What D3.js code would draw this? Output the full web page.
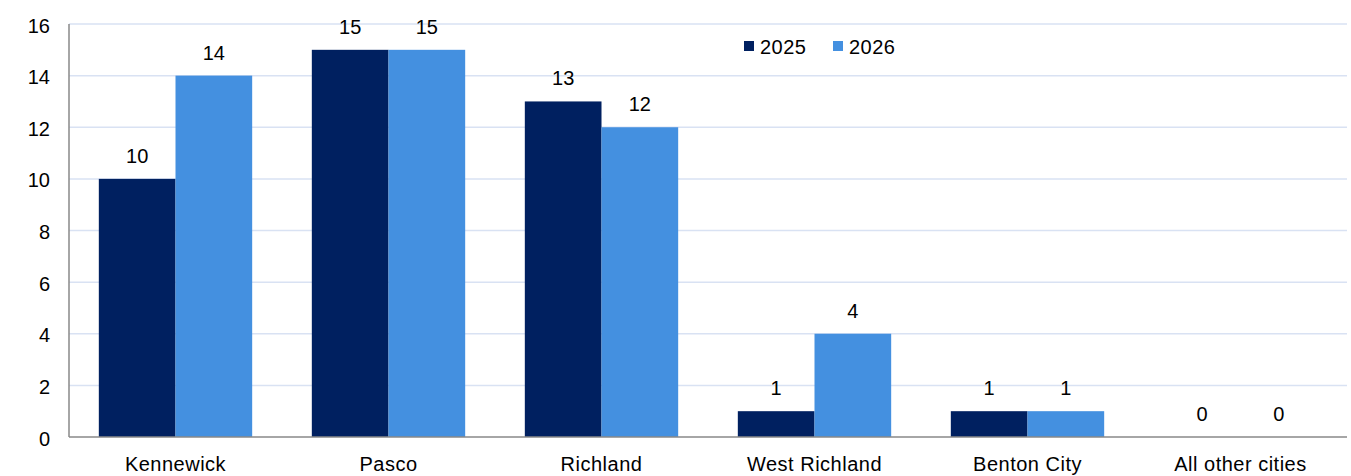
<!DOCTYPE html>
<html>
<head>
<meta charset="utf-8">
<script src="https://cdn.jsdelivr.net/npm/d3@7"></script>
<style>
  body { margin: 0; background: #fff; }
  svg { font-family: "Liberation Sans", Arial, sans-serif; }
</style>
</head>
<body>
<div id="chart"></div>
<script>
// Chart data
const cities = ["Kennewick", "Pasco", "Richland", "West Richland", "Benton City", "All other cities"];
const years = ["2025", "2026"];
const values2025 = [10, 15, 13, 1, 1, 0];
const values2026 = [14, 15, 12, 4, 1, 0];
const yTicks = [0, 2, 4, 6, 8, 10, 12, 14, 16];
const colors = ["#002060", "#4490e0"];

const width = 1351, height = 476;
const margin = { top: 24, right: 4, bottom: 39, left: 69 };
const fontSize = 20;

const svg = d3.select("#chart").append("svg")
    .attr("width", width)
    .attr("height", height);

const x = d3.scaleBand()
    .domain(cities)
    .range([margin.left, width - margin.right])
    .paddingInner(0.28)
    .paddingOuter(0.14);

const x1 = d3.scaleBand()
    .domain(years)
    .range([0, x.bandwidth()]);

const y = d3.scaleLinear()
    .domain([0, 16])
    .range([height - margin.bottom, margin.top]);

// Gridlines
svg.append("g")
    .selectAll("line")
    .data(yTicks.filter(d => d > 0))
    .enter().append("line")
    .attr("x1", margin.left)
    .attr("x2", width - margin.right)
    .attr("y1", d => y(d))
    .attr("y2", d => y(d))
    .attr("stroke", "#d9e2f3")
    .attr("stroke-width", 1.5);

// Y axis labels
svg.append("g")
    .selectAll("text")
    .data(yTicks)
    .enter().append("text")
    .attr("x", 50)
    .attr("y", d => y(d) + 8.5)
    .attr("text-anchor", "end")
    .attr("font-size", fontSize)
    .attr("fill", "#000")
    .text(d => d);

// Bars
const series = years.map((yr, i) => ({ year: yr, values: i === 0 ? values2025 : values2026 }));

const groups = svg.append("g")
    .selectAll("g")
    .data(series)
    .enter().append("g")
    .attr("fill", (d, i) => colors[i]);

groups.selectAll("rect")
    .data(d => d.values.map((v, i) => ({ city: cities[i], year: d.year, value: v })))
    .enter().append("rect")
    .attr("x", d => x(d.city) + x1(d.year))
    .attr("y", d => y(d.value))
    .attr("width", x1.bandwidth())
    .attr("height", d => y(0) - y(d.value));

// Value labels
groups.selectAll("text")
    .data(d => d.values.map((v, i) => ({ city: cities[i], year: d.year, value: v })))
    .enter().append("text")
    .attr("x", d => x(d.city) + x1(d.year) + x1.bandwidth() / 2)
    .attr("y", d => y(d.value) - 16)
    .attr("text-anchor", "middle")
    .attr("font-size", fontSize)
    .attr("fill", "#000")
    .text(d => d.value);

// Axis lines
svg.append("line")
    .attr("x1", margin.left).attr("x2", margin.left)
    .attr("y1", margin.top).attr("y2", y(0))
    .attr("stroke", "#888").attr("stroke-width", 1.5);

svg.append("line")
    .attr("x1", margin.left).attr("x2", width - margin.right)
    .attr("y1", y(0)).attr("y2", y(0))
    .attr("stroke", "#888").attr("stroke-width", 1.5);

// Category labels
svg.append("g")
    .selectAll("text")
    .data(cities)
    .enter().append("text")
    .attr("x", d => x(d) + x.bandwidth() / 2)
    .attr("y", 471)
    .attr("text-anchor", "middle")
    .attr("font-size", fontSize)
    .attr("letter-spacing", 0.5)
    .attr("fill", "#000")
    .text(d => d);

// Legend
const legend = svg.append("g")
    .selectAll("g")
    .data(years)
    .enter().append("g")
    .attr("transform", (d, i) => `translate(${744 + i * 89}, 41)`);

legend.append("rect")
    .attr("width", 10).attr("height", 10)
    .attr("fill", (d, i) => colors[i]);

legend.append("text")
    .attr("x", 16).attr("y", 13)
    .attr("font-size", fontSize)
    .attr("letter-spacing", 0.5)
    .attr("fill", "#000")
    .text(d => d);
</script>
</body>
</html>
